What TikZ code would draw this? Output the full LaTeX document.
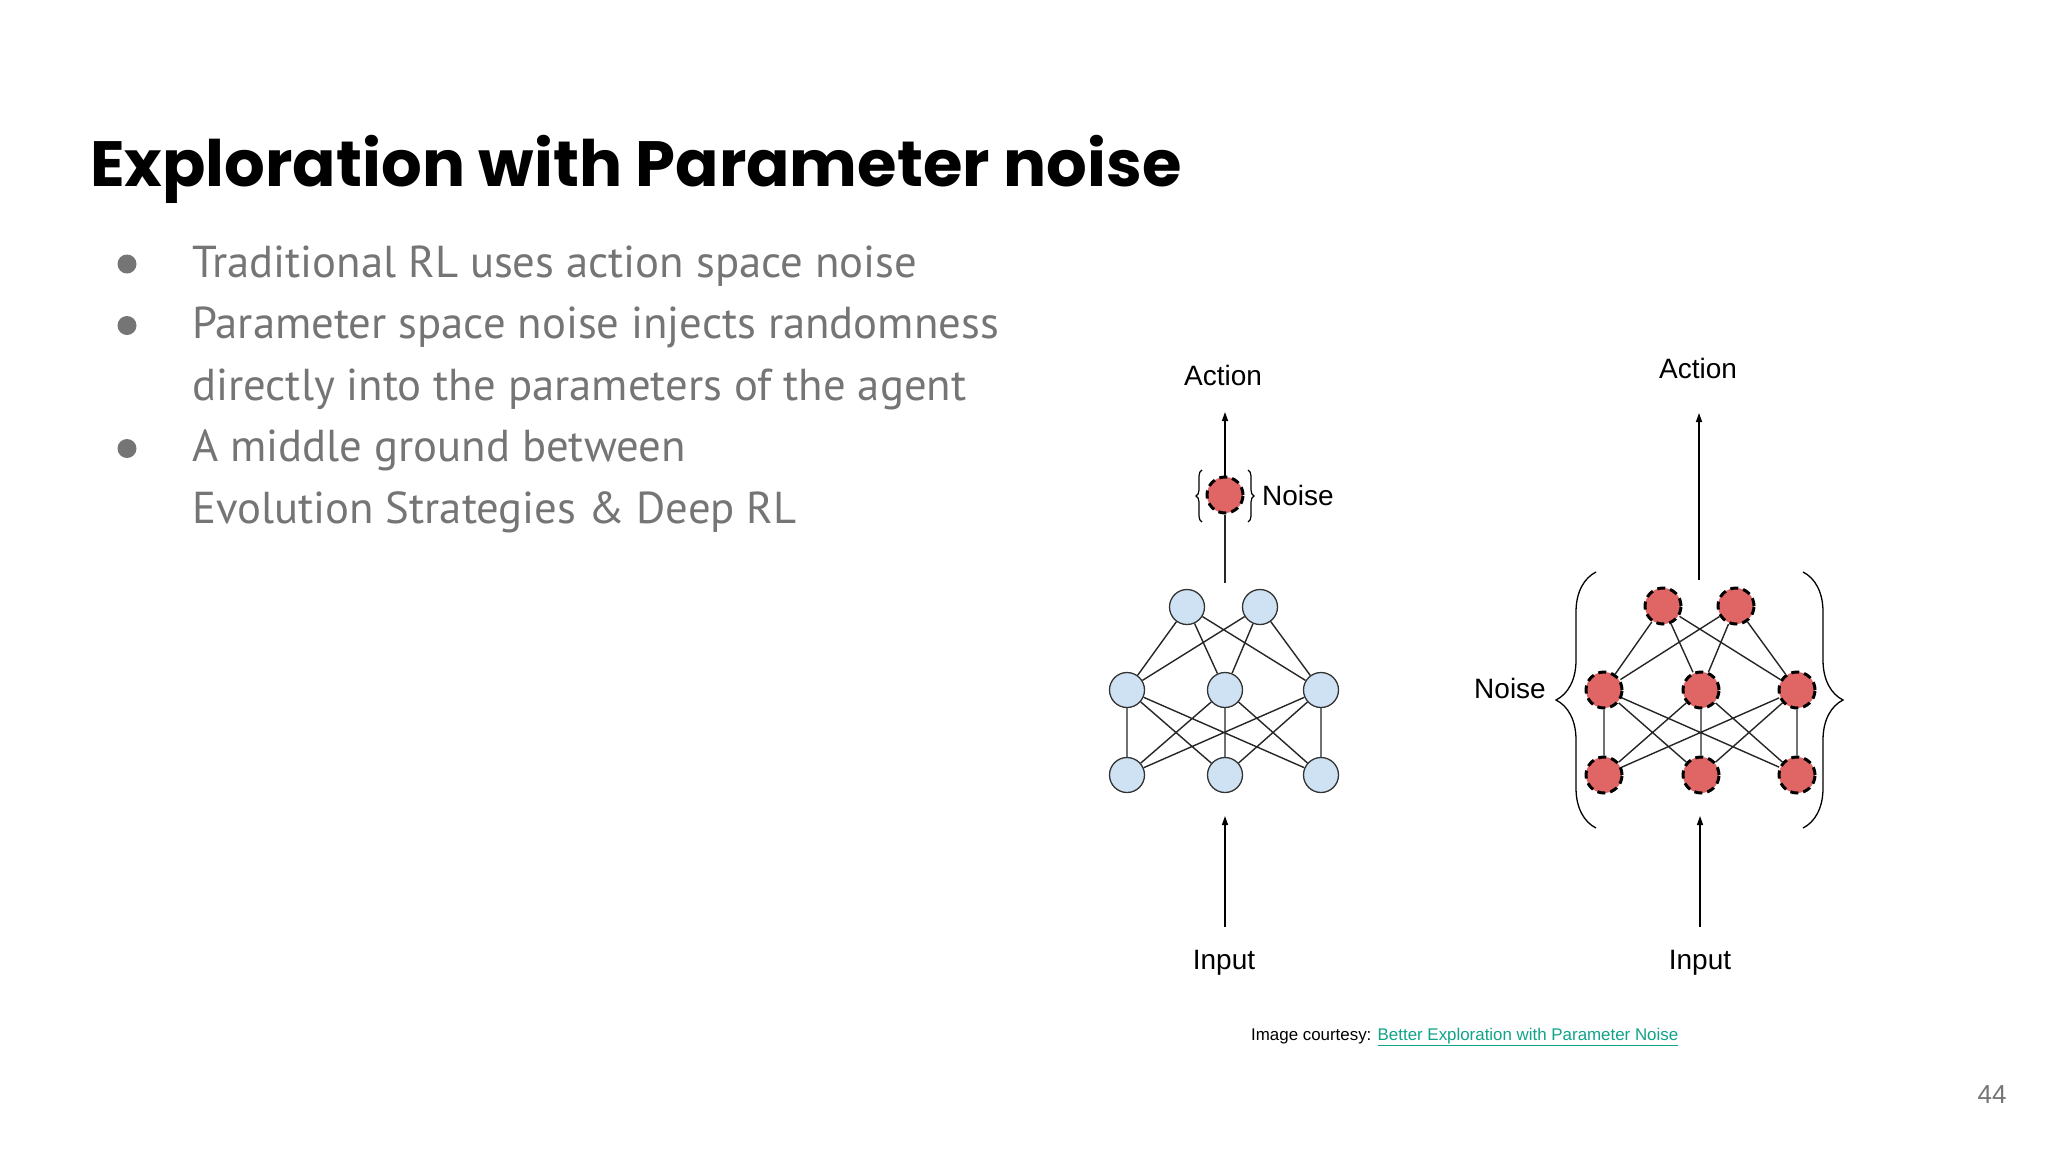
\documentclass[tikz,border=0pt]{standalone}
\usepackage{fontspec}
\setmainfont{Liberation Sans}
\newfontfamily\titlefont{Poppins}
\newfontfamily\bodyfont{PT Sans}
\usetikzlibrary{arrows.meta, decorations.pathreplacing}

\definecolor{bodygray}{RGB}{117,117,117}
\definecolor{nodeblue}{RGB}{207,226,243}
\definecolor{noisered}{RGB}{224,102,102}
\definecolor{linkteal}{RGB}{17,163,136}

\tikzset{
  unit/.style={circle, draw=black!80, line width=1.3pt, fill=nodeblue, minimum size=35pt, inner sep=0pt},
  noisy/.style={circle, draw=black, line width=3pt, dash pattern=on 8pt off 5pt, fill=noisered, minimum size=36pt, inner sep=0pt},
  edge/.style={line width=1.4pt, black!85},
  arr/.style={line width=1.4pt, -{Triangle[length=9pt, width=6pt]}},
  lbl/.style={font=\fontsize{28}{32}\selectfont, inner sep=0pt},
  bullet/.style={font=\bodyfont\fontsize{44.7}{50}\selectfont, text=bodygray, anchor=base west, inner sep=0pt},
  dot/.style={circle, fill=bodygray, minimum size=19pt, inner sep=0pt},
}

\begin{document}
\begin{tikzpicture}[x=1pt, y=-1pt]
  \useasboundingbox[fill=white] (0,0) rectangle (2048,1152);

  % title and bullets
  \node[anchor=base west, inner sep=0pt, font=\titlefont\bfseries\fontsize{64}{72}\selectfont] (title) at (90,186) {Exploration with Parameter noise};
  \node[dot] (d1) at (127,264) {};
  \node[dot] (d2) at (127,325.5) {};
  \node[dot] (d3) at (127,448.5) {};
  \node[bullet] (t1) at (192,277) {Traditional RL uses action space noise};
  \node[bullet] (t2) at (192,338.5) {Parameter space noise injects randomness};
  \node[bullet] (t3) at (192,400) {directly into the parameters of the agent};
  \node[bullet] (t4) at (192,461.5) {A middle ground between};
  \node[bullet] (t5) at (192,523) {Evolution Strategies \& Deep RL};

  % action space noise
  \node[unit] (lt1) at (1187,607) {};
  \node[unit] (lt2) at (1260,607) {};
  \node[unit] (lm1) at (1127,690) {};
  \node[unit] (lm2) at (1225,690) {};
  \node[unit] (lm3) at (1321,690) {};
  \node[unit] (lb1) at (1127,775) {};
  \node[unit] (lb2) at (1225,775) {};
  \node[unit] (lb3) at (1321,775) {};
  \draw[edge] (lt1) -- (lm1) (lt1) -- (lm2) (lt1) -- (lm3)
              (lt2) -- (lm1) (lt2) -- (lm2) (lt2) -- (lm3);
  \draw[edge] (lm1) -- (lb1) (lm1) -- (lb2) (lm1) -- (lb3)
              (lm2) -- (lb1) (lm2) -- (lb2) (lm2) -- (lb3)
              (lm3) -- (lb1) (lm3) -- (lb2) (lm3) -- (lb3);
  \node[noisy] (lnoise) at (1225,495) {};
  \coordinate (lstem) at (1225,583);
  \coordinate (ltip) at (1225,412);
  \coordinate (lintip) at (1225,816);
  \coordinate (linfoot) at (1225,927);
  \draw[edge] (lstem) -- (lnoise);
  \draw[arr] (lnoise) -- (ltip);
  \draw[arr] (linfoot) -- (lintip);
  \draw[line width=1.2pt, decorate, decoration={brace, amplitude=6pt}] (1202,522) -- (1202,470);
  \draw[line width=1.2pt, decorate, decoration={brace, amplitude=6pt}] (1248,470) -- (1248,522);
  \node[lbl, anchor=base] (laction) at (1223,385) {Action};
  \node[lbl, anchor=base west] (lnoiselbl) at (1262,505) {Noise};
  \node[lbl, anchor=base] (linput) at (1224,969) {Input};

  % parameter space noise
  \node[noisy] (rt1) at (1663,606) {};
  \node[noisy] (rt2) at (1736,606) {};
  \node[noisy] (rm1) at (1604,690) {};
  \node[noisy] (rm2) at (1701,690) {};
  \node[noisy] (rm3) at (1797,690) {};
  \node[noisy] (rb1) at (1604,775) {};
  \node[noisy] (rb2) at (1701,775) {};
  \node[noisy] (rb3) at (1797,775) {};
  \draw[edge] (rt1) -- (rm1) (rt1) -- (rm2) (rt1) -- (rm3)
              (rt2) -- (rm1) (rt2) -- (rm2) (rt2) -- (rm3);
  \draw[edge] (rm1) -- (rb1) (rm1) -- (rb2) (rm1) -- (rb3)
              (rm2) -- (rb1) (rm2) -- (rb2) (rm2) -- (rb3)
              (rm3) -- (rb1) (rm3) -- (rb2) (rm3) -- (rb3);
  \coordinate (rstem) at (1699,580);
  \coordinate (rtip) at (1699,413);
  \coordinate (rintip) at (1700,816);
  \coordinate (rinfoot) at (1700,927);
  \draw[arr] (rstem) -- (rtip);
  \draw[arr] (rinfoot) -- (rintip);
  \draw[line width=1.3pt, decorate, decoration={brace, amplitude=40pt, aspect=0.5}] (1596,828) -- (1596,572);
  \draw[line width=1.3pt, decorate, decoration={brace, amplitude=40pt, aspect=0.5}] (1803,572) -- (1803,828);
  \node[lbl, anchor=base] (raction) at (1698,378) {Action};
  \node[lbl, anchor=base east] (rnoiselbl) at (1546,698) {Noise};
  \node[lbl, anchor=base] (rinput) at (1700,969) {Input};

  % credit and page number
  \node[anchor=base west, inner sep=0pt, font=\fontsize{16.9}{20}\selectfont] (credit) at (1251,1040)
    {Image courtesy: \textcolor{linkteal}{\underline{Better Exploration with Parameter Noise}}};
  \node[font=\fontsize{26}{30}\selectfont, text=bodygray] (pagenum) at (1992,1095) {44};
\end{tikzpicture}
\end{document}
